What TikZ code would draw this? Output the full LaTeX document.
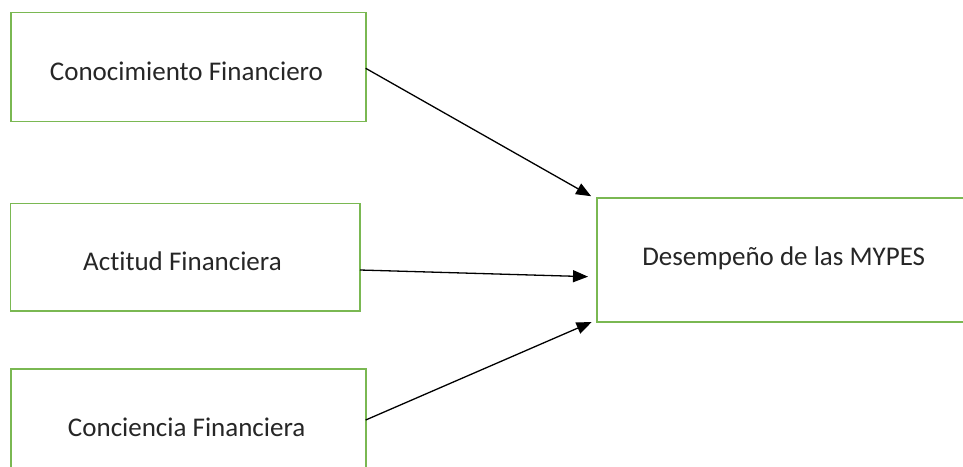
\documentclass[tikz,border=0pt]{standalone}
\usepackage{fontspec}
\setmainfont{Carlito}[Ligatures={NoCommon}]
\usetikzlibrary{arrows.meta}
\definecolor{boxgreen}{RGB}{122,184,82}
\tikzset{
  x=1pt, y=-1pt,
  box/.style={draw=boxgreen, line width=1.6pt, rectangle},
  lbl/.style={anchor=base, inner sep=0pt, font=\fontsize{27}{31}\selectfont, text=black!85},
  conn/.style={draw=black, line width=1.3pt, -{Triangle[length=15pt,width=12pt]}, shorten >=1pt}
}
\begin{document}
\begin{tikzpicture}
\path[use as bounding box, clip] (0,0) rectangle (963,466);
\fill[white] (0,0) rectangle (963,466);
\path[box] (10.7,12.4) rectangle (365.7,121.6);
\coordinate (kb) at (365.7,68.3);
\path[box] (10.3,203.3) rectangle (360,310.7);
\coordinate (ab) at (360,270);
\path[box] (10.7,369) rectangle (365.7,500);
\coordinate (cb) at (365.7,420);
\path[box] (596.7,197.7) rectangle (1000,321.7);
\coordinate (t1) at (592,196.7);
\coordinate (t2) at (589,276.7);
\coordinate (t3) at (592.5,321.7);
\node[lbl] (k) at (186.5,80.7) {Conocimiento Financiero};
\node[lbl] (a) at (182.5,270) {Actitud Financiera};
\node[lbl] (c) at (186.7,436) {Conciencia Financiera};
\node[lbl] (d) at (783.7,265) {Desempeño de las MYPES};
\draw[conn] (kb) -- (t1);
\draw[conn] (ab) -- (t2);
\draw[conn] (cb) -- (t3);
\end{tikzpicture}
\end{document}
